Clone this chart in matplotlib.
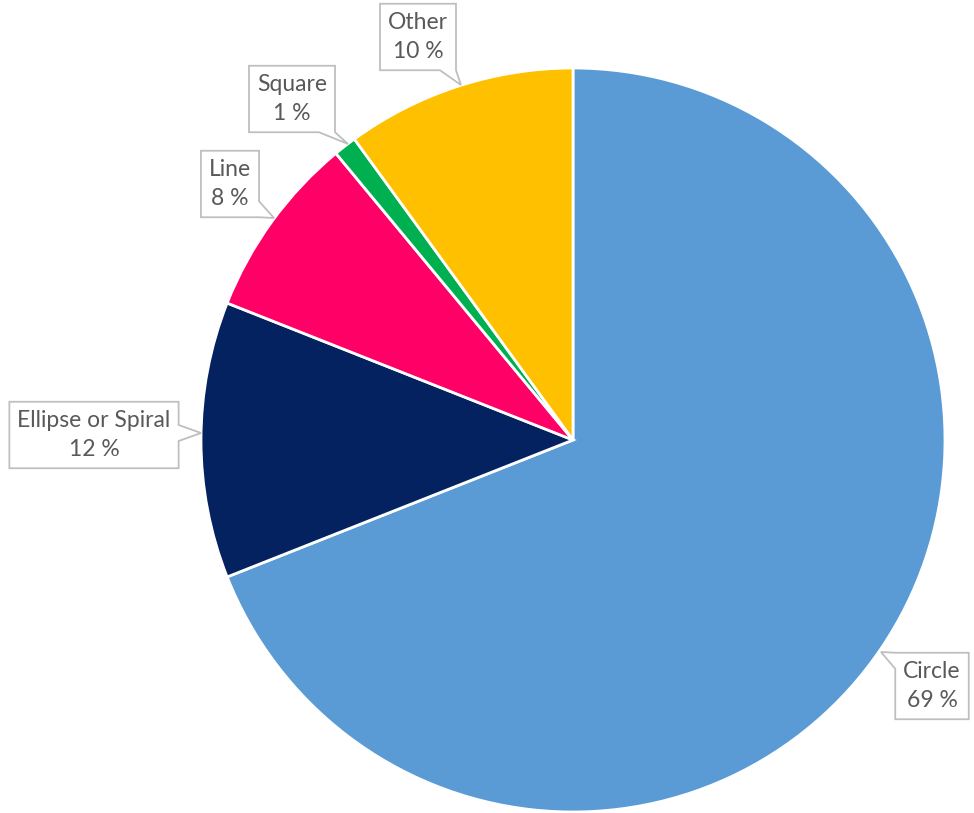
import matplotlib
matplotlib.use("Agg")
import matplotlib.pyplot as plt
from matplotlib.patches import Polygon

labels = ["Circle", "Ellipse or Spiral", "Line", "Square", "Other"]
values = [69, 12, 8, 1, 10]
colors = ["#5B9BD5", "#042260", "#FF0066", "#00B050", "#FFC000"]

# label box centres and pointer tips (pixel coords, y from top)
label_pos = [(932, 686), (94, 435), (230, 184), (292, 99), (418, 37)]
tip_pos = [(881, 652), (201, 433), (274, 218), (348, 144), (461, 85)]

W, H = 974, 813
fig = plt.figure(figsize=(W / 100, H / 100), dpi=100)
ax = fig.add_axes([0, 0, 1, 1])
ax.pie(values, colors=colors, startangle=90, counterclock=False,
       center=(573, H - 440), radius=372,
       wedgeprops=dict(edgecolor="white", linewidth=2))
ax.set_xlim(0, W)
ax.set_ylim(0, H)
ax.set_aspect("equal")
ax.axis("off")

texts = []
for lab, v, (lx, ly) in zip(labels, values, label_pos):
    t = ax.text(lx, H - ly, f"{lab}\n{v} %", ha="center", va="center",
                fontsize=16.5, color="#595959", family=["Lato", "DejaVu Sans"],
                linespacing=1.5, zorder=5)
    texts.append(t)

fig.canvas.draw()
r = fig.canvas.get_renderer()
padx, pady, half = 8, 8, 8
for t, (tx, ty) in zip(texts, tip_pos):
    bb = t.get_window_extent(r)
    x0, x1 = bb.x0 - padx, bb.x1 + padx
    y0, y1 = bb.y0 - pady, bb.y1 + pady
    tx, ty = tx, H - ty
    cx, cy = (x0 + x1) / 2, (y0 + y1) / 2
    dx = (tx - cx) / (x1 - x0)
    dy = (ty - cy) / (y1 - y0)

    def base(c, lo, hi):
        c = min(max(c, lo + half), hi - half)
        return c - half, c + half

    if abs(dx) >= abs(dy):
        b0, b1 = base(ty, y0, y1)
        if dx > 0:  # right side
            pts = [(x0, y0), (x1, y0), (x1, b0), (tx, ty), (x1, b1), (x1, y1), (x0, y1)]
        else:  # left side
            pts = [(x0, y0), (x1, y0), (x1, y1), (x0, y1), (x0, b1), (tx, ty), (x0, b0)]
    else:
        b0, b1 = base(tx, x0, x1)
        if dy < 0:  # bottom side
            pts = [(x0, y0), (b0, y0), (tx, ty), (b1, y0), (x1, y0), (x1, y1), (x0, y1)]
        else:  # top side
            pts = [(x0, y0), (x1, y0), (x1, y1), (b1, y1), (tx, ty), (b0, y1), (x0, y1)]
    ax.add_patch(Polygon(pts, closed=True, fc="white", ec="#BFBFBF", lw=1.3, zorder=4))

fig.savefig("out.png", dpi=100)
